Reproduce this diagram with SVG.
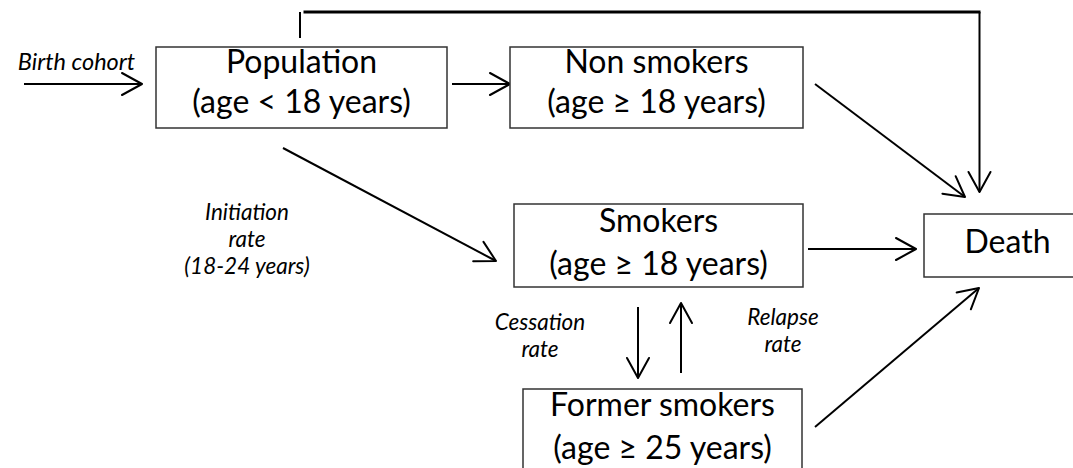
<svg xmlns="http://www.w3.org/2000/svg" width="1073" height="468" viewBox="0 0 1073 468">
<defs>
<style>
.box{fill:#fff;stroke:#333;stroke-width:1.5}
.t{font-family:Lato,"Liberation Sans",sans-serif;font-size:32px;fill:#000;text-anchor:middle}
.lbl{font-family:Lato,"Liberation Sans",sans-serif;font-size:22.5px;font-style:italic;fill:#000;text-anchor:middle}
.c{fill:none;stroke:#000;stroke-width:2}
</style>
<marker id="arr" markerUnits="userSpaceOnUse" orient="auto" refX="0" refY="0" markerWidth="30" markerHeight="30" overflow="visible">
<path d="M-20,-11 L0,0 L-20,11" fill="none" stroke="#000" stroke-width="2" stroke-linejoin="round" stroke-linecap="round"/>
</marker>
</defs>
<rect width="1073" height="468" fill="#fff"/>
<g id="connectors">
<path class="c" d="M24,84 H142" marker-end="url(#arr)"/>
<path class="c" d="M452,84 H510" marker-end="url(#arr)"/>
<path class="c" d="M300,12 V38"/>
<path fill="none" stroke="#000" stroke-width="3" d="M303.5,12 H980.5"/>
<path class="c" d="M979.5,12 V192" marker-end="url(#arr)"/>
<path class="c" d="M815,84 L965,197" marker-end="url(#arr)"/>
<path class="c" d="M283,148 L496,261" marker-end="url(#arr)"/>
<path class="c" d="M808,249 H916" marker-end="url(#arr)"/>
<path class="c" d="M638,307 V378" marker-end="url(#arr)"/>
<path class="c" d="M681,373 V303" marker-end="url(#arr)"/>
<path class="c" d="M815,427 L979,288" marker-end="url(#arr)"/>
<text class="lbl" x="76.5" y="70" style="font-size:23.5px">Birth cohort</text>
<text class="lbl"><tspan x="247" y="220">Initiation</tspan><tspan x="247" y="247">rate</tspan><tspan x="247" y="274">(18-24 years)</tspan></text>
<text class="lbl"><tspan x="540" y="330">Cessation</tspan><tspan x="540" y="357">rate</tspan></text>
<text class="lbl"><tspan x="783" y="325">Relapse</tspan><tspan x="783" y="352">rate</tspan></text>
</g>
<g id="population">
<rect class="box" x="156" y="47" width="291" height="81"/>
<text class="t"><tspan x="301.5" y="73">Population</tspan><tspan x="301.5" y="113">(age &lt; 18 years)</tspan></text>
</g>
<g id="nonsmokers">
<rect class="box" x="510" y="47" width="293" height="81"/>
<text class="t"><tspan x="656.5" y="73">Non smokers</tspan><tspan x="656.5" y="113">(age ≥ 18 years)</tspan></text>
</g>
<g id="smokers">
<rect class="box" x="514" y="204" width="289" height="83"/>
<text class="t"><tspan x="658.5" y="232">Smokers</tspan><tspan x="658.5" y="275">(age ≥ 18 years)</tspan></text>
</g>
<g id="former">
<rect class="box" x="523" y="389" width="279" height="100"/>
<text class="t"><tspan x="662.5" y="416">Former smokers</tspan><tspan x="662.5" y="459">(age ≥ 25 years)</tspan></text>
</g>
<g id="death">
<rect class="box" x="924" y="214" width="160" height="63"/>
<text class="t" x="1007.5" y="253">Death</text>
</g>
</svg>
